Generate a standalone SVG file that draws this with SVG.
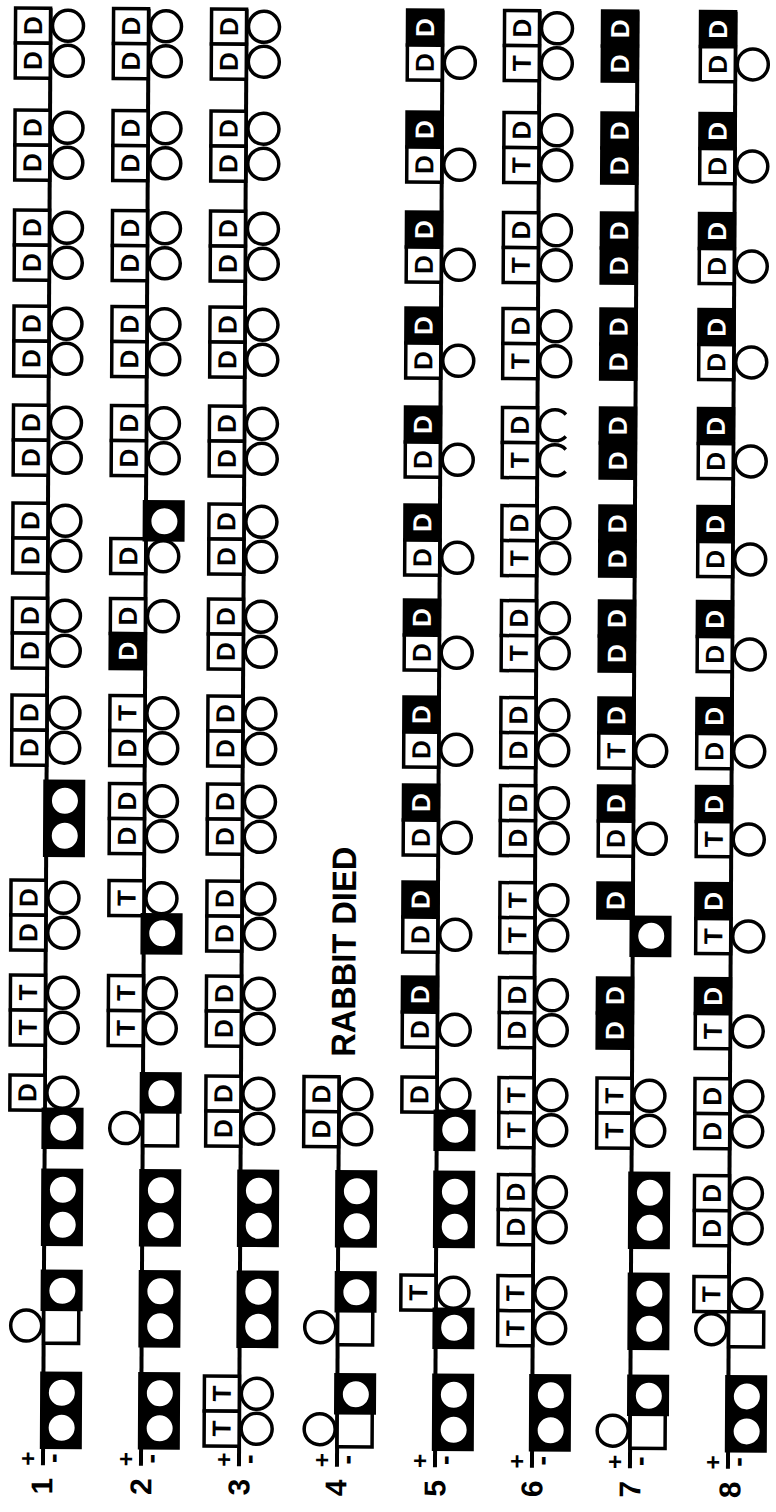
<svg xmlns="http://www.w3.org/2000/svg" xmlns:xlink="http://www.w3.org/1999/xlink" width="776" height="1512" viewBox="0 0 776 1512">
<style>
.c{stroke:#000;stroke-width:4;fill:none}
.b{fill:#fff;stroke:#000;stroke-width:3.5}
.k{fill:#000;stroke:#000;stroke-width:3.5}
.o{fill:#fff;stroke:#000;stroke-width:3.5}
.f{fill:#fff;stroke:#000;stroke-width:3}
.t{font-family:"Liberation Sans",Arial,sans-serif;font-weight:bold;font-size:26px;text-anchor:middle;dominant-baseline:central;fill:#000}
.w{fill:#fff}
.lab{font-family:"Liberation Sans",Arial,sans-serif;font-weight:bold;text-anchor:middle;dominant-baseline:central;fill:#000}
</style>
<defs>
<g id="sA"><rect class="b" x="-35" y="0" width="35" height="35"/><circle class="o" cx="17.5" cy="17.5" r="15.5"/></g>
<g id="sB"><rect class="b" x="-35" y="35" width="35" height="35"/><circle class="o" cx="17.5" cy="52.5" r="15.5"/></g>
<rect id="kA" class="k" x="-35" y="0" width="35" height="35"/>
<rect id="kB" class="k" x="-35" y="35" width="35" height="35"/>
<g id="fA"><rect class="k" x="-1.5" y="-2" width="38.5" height="38"/><circle class="f" cx="18.5" cy="17.5" r="14.5"/></g>
<g id="fB"><rect class="k" x="-1.5" y="34" width="38.5" height="38"/><circle class="f" cx="18.5" cy="52.5" r="14.5"/></g>
<g id="f2"><rect class="k" x="-1.5" y="-2" width="38.5" height="74"/><circle class="f" cx="18.5" cy="17.5" r="14.5"/><circle class="f" cx="18.5" cy="52.5" r="14.5"/></g>
<g id="cB"><rect class="b" x="0" y="35" width="35" height="35"/><circle class="o" cx="-17.5" cy="52.5" r="15.5"/></g>
</defs>
<rect width="776" height="1512" fill="#fff"/>
<g transform="rotate(0.3 388 1460)">
<g id="connectors">
<line class="c" x1="43" y1="10" x2="43" y2="1467"/>
<line class="c" x1="141" y1="10" x2="141" y2="1467"/>
<line class="c" x1="239" y1="10" x2="239" y2="1467"/>
<line class="c" x1="337" y1="1077" x2="337" y2="1467"/>
<line class="c" x1="435" y1="10" x2="435" y2="1467"/>
<line class="c" x1="532" y1="10" x2="532" y2="1467"/>
<line class="c" x1="630" y1="10" x2="630" y2="1467"/>
<line class="c" x1="728" y1="10" x2="728" y2="1467"/>
</g>

<!-- Row 1 -->
<g id="r1u0" transform="translate(43 10)"><use href="#sA"/><use href="#sB"/><text class="t" transform="translate(-17.5 17.5) rotate(-90)">D</text><text class="t" transform="translate(-17.5 52.5) rotate(-90)">D</text></g>
<g id="r1u1" transform="translate(43 112)"><use href="#sA"/><use href="#sB"/><text class="t" transform="translate(-17.5 17.5) rotate(-90)">D</text><text class="t" transform="translate(-17.5 52.5) rotate(-90)">D</text></g>
<g id="r1u2" transform="translate(43 212)"><use href="#sA"/><use href="#sB"/><text class="t" transform="translate(-17.5 17.5) rotate(-90)">D</text><text class="t" transform="translate(-17.5 52.5) rotate(-90)">D</text></g>
<g id="r1u3" transform="translate(43 308)"><use href="#sA"/><use href="#sB"/><text class="t" transform="translate(-17.5 17.5) rotate(-90)">D</text><text class="t" transform="translate(-17.5 52.5) rotate(-90)">D</text></g>
<g id="r1u4" transform="translate(43 407)"><use href="#sA"/><use href="#sB"/><text class="t" transform="translate(-17.5 17.5) rotate(-90)">D</text><text class="t" transform="translate(-17.5 52.5) rotate(-90)">D</text></g>
<g id="r1u5" transform="translate(43 505)"><use href="#sA"/><use href="#sB"/><text class="t" transform="translate(-17.5 17.5) rotate(-90)">D</text><text class="t" transform="translate(-17.5 52.5) rotate(-90)">D</text></g>
<g id="r1u6" transform="translate(43 600)"><use href="#sA"/><use href="#sB"/><text class="t" transform="translate(-17.5 17.5) rotate(-90)">D</text><text class="t" transform="translate(-17.5 52.5) rotate(-90)">D</text></g>
<g id="r1u7" transform="translate(43 697)"><use href="#sA"/><use href="#sB"/><text class="t" transform="translate(-17.5 17.5) rotate(-90)">D</text><text class="t" transform="translate(-17.5 52.5) rotate(-90)">D</text></g>
<g id="r1u8" transform="translate(43 785)"><use href="#f2"/></g>
<g id="r1u9" transform="translate(43 882)"><use href="#sA"/><use href="#sB"/><text class="t" transform="translate(-17.5 17.5) rotate(-90)">D</text><text class="t" transform="translate(-17.5 52.5) rotate(-90)">D</text></g>
<g id="r1u10" transform="translate(43 977)"><use href="#sA"/><use href="#sB"/><text class="t" transform="translate(-17.5 17.5) rotate(-90)">T</text><text class="t" transform="translate(-17.5 52.5) rotate(-90)">T</text></g>
<g id="r1u11" transform="translate(43 1077)"><use href="#sA"/><use href="#fB"/><text class="t" transform="translate(-17.5 17.5) rotate(-90)">D</text></g>
<g id="r1u12" transform="translate(43 1174)"><use href="#f2"/></g>
<g id="r1u13" transform="translate(43 1275)"><use href="#cB"/><use href="#fA"/></g>
<g id="r1u14" transform="translate(43 1377)"><use href="#f2"/></g>

<!-- Row 2 -->
<g id="r2u0" transform="translate(141 10)"><use href="#sA"/><use href="#sB"/><text class="t" transform="translate(-17.5 17.5) rotate(-90)">D</text><text class="t" transform="translate(-17.5 52.5) rotate(-90)">D</text></g>
<g id="r2u1" transform="translate(141 112)"><use href="#sA"/><use href="#sB"/><text class="t" transform="translate(-17.5 17.5) rotate(-90)">D</text><text class="t" transform="translate(-17.5 52.5) rotate(-90)">D</text></g>
<g id="r2u2" transform="translate(141 212)"><use href="#sA"/><use href="#sB"/><text class="t" transform="translate(-17.5 17.5) rotate(-90)">D</text><text class="t" transform="translate(-17.5 52.5) rotate(-90)">D</text></g>
<g id="r2u3" transform="translate(141 308)"><use href="#sA"/><use href="#sB"/><text class="t" transform="translate(-17.5 17.5) rotate(-90)">D</text><text class="t" transform="translate(-17.5 52.5) rotate(-90)">D</text></g>
<g id="r2u4" transform="translate(141 407)"><use href="#sA"/><use href="#sB"/><text class="t" transform="translate(-17.5 17.5) rotate(-90)">D</text><text class="t" transform="translate(-17.5 52.5) rotate(-90)">D</text></g>
<g id="r2u5" transform="translate(141 505)"><use href="#sB"/><use href="#fA"/><text class="t" transform="translate(-17.5 52.5) rotate(-90)">D</text></g>
<g id="r2u6" transform="translate(141 600)"><use href="#sA"/><use href="#kB"/><text class="t" transform="translate(-17.5 17.5) rotate(-90)">D</text><text class="t w" transform="translate(-17.5 52.5) rotate(-90)">D</text></g>
<g id="r2u7" transform="translate(141 697)"><use href="#sA"/><use href="#sB"/><text class="t" transform="translate(-17.5 17.5) rotate(-90)">T</text><text class="t" transform="translate(-17.5 52.5) rotate(-90)">D</text></g>
<g id="r2u8" transform="translate(141 785)"><use href="#sA"/><use href="#sB"/><text class="t" transform="translate(-17.5 17.5) rotate(-90)">D</text><text class="t" transform="translate(-17.5 52.5) rotate(-90)">D</text></g>
<g id="r2u9" transform="translate(141 882)"><use href="#sA"/><use href="#fB"/><text class="t" transform="translate(-17.5 17.5) rotate(-90)">T</text></g>
<g id="r2u10" transform="translate(141 977)"><use href="#sA"/><use href="#sB"/><text class="t" transform="translate(-17.5 17.5) rotate(-90)">T</text><text class="t" transform="translate(-17.5 52.5) rotate(-90)">T</text></g>
<g id="r2u11" transform="translate(141 1077)"><use href="#cB"/><use href="#fA"/></g>
<g id="r2u12" transform="translate(141 1174)"><use href="#f2"/></g>
<g id="r2u13" transform="translate(141 1275)"><use href="#f2"/></g>
<g id="r2u14" transform="translate(141 1377)"><use href="#f2"/></g>

<!-- Row 3 -->
<g id="r3u0" transform="translate(239 10)"><use href="#sA"/><use href="#sB"/><text class="t" transform="translate(-17.5 17.5) rotate(-90)">D</text><text class="t" transform="translate(-17.5 52.5) rotate(-90)">D</text></g>
<g id="r3u1" transform="translate(239 112)"><use href="#sA"/><use href="#sB"/><text class="t" transform="translate(-17.5 17.5) rotate(-90)">D</text><text class="t" transform="translate(-17.5 52.5) rotate(-90)">D</text></g>
<g id="r3u2" transform="translate(239 212)"><use href="#sA"/><use href="#sB"/><text class="t" transform="translate(-17.5 17.5) rotate(-90)">D</text><text class="t" transform="translate(-17.5 52.5) rotate(-90)">D</text></g>
<g id="r3u3" transform="translate(239 308)"><use href="#sA"/><use href="#sB"/><text class="t" transform="translate(-17.5 17.5) rotate(-90)">D</text><text class="t" transform="translate(-17.5 52.5) rotate(-90)">D</text></g>
<g id="r3u4" transform="translate(239 407)"><use href="#sA"/><use href="#sB"/><text class="t" transform="translate(-17.5 17.5) rotate(-90)">D</text><text class="t" transform="translate(-17.5 52.5) rotate(-90)">D</text></g>
<g id="r3u5" transform="translate(239 505)"><use href="#sA"/><use href="#sB"/><text class="t" transform="translate(-17.5 17.5) rotate(-90)">D</text><text class="t" transform="translate(-17.5 52.5) rotate(-90)">D</text></g>
<g id="r3u6" transform="translate(239 600)"><use href="#sA"/><use href="#sB"/><text class="t" transform="translate(-17.5 17.5) rotate(-90)">D</text><text class="t" transform="translate(-17.5 52.5) rotate(-90)">D</text></g>
<g id="r3u7" transform="translate(239 697)"><use href="#sA"/><use href="#sB"/><text class="t" transform="translate(-17.5 17.5) rotate(-90)">D</text><text class="t" transform="translate(-17.5 52.5) rotate(-90)">D</text></g>
<g id="r3u8" transform="translate(239 785)"><use href="#sA"/><use href="#sB"/><text class="t" transform="translate(-17.5 17.5) rotate(-90)">D</text><text class="t" transform="translate(-17.5 52.5) rotate(-90)">D</text></g>
<g id="r3u9" transform="translate(239 882)"><use href="#sA"/><use href="#sB"/><text class="t" transform="translate(-17.5 17.5) rotate(-90)">D</text><text class="t" transform="translate(-17.5 52.5) rotate(-90)">D</text></g>
<g id="r3u10" transform="translate(239 977)"><use href="#sA"/><use href="#sB"/><text class="t" transform="translate(-17.5 17.5) rotate(-90)">D</text><text class="t" transform="translate(-17.5 52.5) rotate(-90)">D</text></g>
<g id="r3u11" transform="translate(239 1077)"><use href="#sA"/><use href="#sB"/><text class="t" transform="translate(-17.5 17.5) rotate(-90)">D</text><text class="t" transform="translate(-17.5 52.5) rotate(-90)">D</text></g>
<g id="r3u12" transform="translate(239 1174)"><use href="#f2"/></g>
<g id="r3u13" transform="translate(239 1275)"><use href="#f2"/></g>
<g id="r3u14" transform="translate(239 1377)"><use href="#sA"/><use href="#sB"/><text class="t" transform="translate(-17.5 17.5) rotate(-90)">T</text><text class="t" transform="translate(-17.5 52.5) rotate(-90)">T</text></g>

<!-- Row 4 -->
<g id="r4note"><text class="lab" font-size="34" textLength="210" lengthAdjust="spacingAndGlyphs" transform="translate(341 952) rotate(-90)">RABBIT DIED</text></g>
<g id="r4u11" transform="translate(337 1077)"><use href="#sA"/><use href="#sB"/><text class="t" transform="translate(-17.5 17.5) rotate(-90)">D</text><text class="t" transform="translate(-17.5 52.5) rotate(-90)">D</text></g>
<g id="r4u12" transform="translate(337 1174)"><use href="#f2"/></g>
<g id="r4u13" transform="translate(337 1275)"><use href="#cB"/><use href="#fA"/></g>
<g id="r4u14" transform="translate(337 1377)"><use href="#cB"/><use href="#fA"/></g>

<!-- Row 5 -->
<g id="r5u0" transform="translate(435 10)"><use href="#kA"/><use href="#sB"/><text class="t w" transform="translate(-17.5 17.5) rotate(-90)">D</text><text class="t" transform="translate(-17.5 52.5) rotate(-90)">D</text></g>
<g id="r5u1" transform="translate(435 112)"><use href="#kA"/><use href="#sB"/><text class="t w" transform="translate(-17.5 17.5) rotate(-90)">D</text><text class="t" transform="translate(-17.5 52.5) rotate(-90)">D</text></g>
<g id="r5u2" transform="translate(435 212)"><use href="#kA"/><use href="#sB"/><text class="t w" transform="translate(-17.5 17.5) rotate(-90)">D</text><text class="t" transform="translate(-17.5 52.5) rotate(-90)">D</text></g>
<g id="r5u3" transform="translate(435 308)"><use href="#kA"/><use href="#sB"/><text class="t w" transform="translate(-17.5 17.5) rotate(-90)">D</text><text class="t" transform="translate(-17.5 52.5) rotate(-90)">D</text></g>
<g id="r5u4" transform="translate(435 407)"><use href="#kA"/><use href="#sB"/><text class="t w" transform="translate(-17.5 17.5) rotate(-90)">D</text><text class="t" transform="translate(-17.5 52.5) rotate(-90)">D</text></g>
<g id="r5u5" transform="translate(435 505)"><use href="#kA"/><use href="#sB"/><text class="t w" transform="translate(-17.5 17.5) rotate(-90)">D</text><text class="t" transform="translate(-17.5 52.5) rotate(-90)">D</text></g>
<g id="r5u6" transform="translate(435 600)"><use href="#kA"/><use href="#sB"/><text class="t w" transform="translate(-17.5 17.5) rotate(-90)">D</text><text class="t" transform="translate(-17.5 52.5) rotate(-90)">D</text></g>
<g id="r5u7" transform="translate(435 697)"><use href="#kA"/><use href="#sB"/><text class="t w" transform="translate(-17.5 17.5) rotate(-90)">D</text><text class="t" transform="translate(-17.5 52.5) rotate(-90)">D</text></g>
<g id="r5u8" transform="translate(435 785)"><use href="#kA"/><use href="#sB"/><text class="t w" transform="translate(-17.5 17.5) rotate(-90)">D</text><text class="t" transform="translate(-17.5 52.5) rotate(-90)">D</text></g>
<g id="r5u9" transform="translate(435 882)"><use href="#kA"/><use href="#sB"/><text class="t w" transform="translate(-17.5 17.5) rotate(-90)">D</text><text class="t" transform="translate(-17.5 52.5) rotate(-90)">D</text></g>
<g id="r5u10" transform="translate(435 977)"><use href="#kA"/><use href="#sB"/><text class="t w" transform="translate(-17.5 17.5) rotate(-90)">D</text><text class="t" transform="translate(-17.5 52.5) rotate(-90)">D</text></g>
<g id="r5u11" transform="translate(435 1077)"><use href="#sA"/><use href="#fB"/><text class="t" transform="translate(-17.5 17.5) rotate(-90)">D</text></g>
<g id="r5u12" transform="translate(435 1174)"><use href="#f2"/></g>
<g id="r5u13" transform="translate(435 1275)"><use href="#sA"/><use href="#fB"/><text class="t" transform="translate(-17.5 17.5) rotate(-90)">T</text></g>
<g id="r5u14" transform="translate(435 1377)"><use href="#f2"/></g>

<!-- Row 6 -->
<g id="r6u0" transform="translate(532 10)"><use href="#sA"/><use href="#sB"/><text class="t" transform="translate(-17.5 17.5) rotate(-90)">D</text><text class="t" transform="translate(-17.5 52.5) rotate(-90)">T</text></g>
<g id="r6u1" transform="translate(532 112)"><use href="#sA"/><use href="#sB"/><text class="t" transform="translate(-17.5 17.5) rotate(-90)">D</text><text class="t" transform="translate(-17.5 52.5) rotate(-90)">T</text></g>
<g id="r6u2" transform="translate(532 212)"><use href="#sA"/><use href="#sB"/><text class="t" transform="translate(-17.5 17.5) rotate(-90)">D</text><text class="t" transform="translate(-17.5 52.5) rotate(-90)">T</text></g>
<g id="r6u3" transform="translate(532 308)"><use href="#sA"/><use href="#sB"/><text class="t" transform="translate(-17.5 17.5) rotate(-90)">D</text><text class="t" transform="translate(-17.5 52.5) rotate(-90)">T</text></g>
<g id="r6u4" transform="translate(532 407)"><rect class="b" x="-35" y="0" width="35" height="35"/><rect class="b" x="-35" y="35" width="35" height="35"/><path class="o" d="M28.5 6.5 A15.5 15.5 0 1 0 28.5 28.5"/><path class="o" d="M28.5 41.5 A15.5 15.5 0 1 0 28.5 63.5"/><text class="t" transform="translate(-17.5 17.5) rotate(-90)">D</text><text class="t" transform="translate(-17.5 52.5) rotate(-90)">T</text></g>
<g id="r6u5" transform="translate(532 505)"><use href="#sA"/><use href="#sB"/><text class="t" transform="translate(-17.5 17.5) rotate(-90)">D</text><text class="t" transform="translate(-17.5 52.5) rotate(-90)">T</text></g>
<g id="r6u6" transform="translate(532 600)"><use href="#sA"/><use href="#sB"/><text class="t" transform="translate(-17.5 17.5) rotate(-90)">D</text><text class="t" transform="translate(-17.5 52.5) rotate(-90)">T</text></g>
<g id="r6u7" transform="translate(532 697)"><use href="#sA"/><use href="#sB"/><text class="t" transform="translate(-17.5 17.5) rotate(-90)">D</text><text class="t" transform="translate(-17.5 52.5) rotate(-90)">D</text></g>
<g id="r6u8" transform="translate(532 785)"><use href="#sA"/><use href="#sB"/><text class="t" transform="translate(-17.5 17.5) rotate(-90)">D</text><text class="t" transform="translate(-17.5 52.5) rotate(-90)">D</text></g>
<g id="r6u9" transform="translate(532 882)"><use href="#sA"/><use href="#sB"/><text class="t" transform="translate(-17.5 17.5) rotate(-90)">T</text><text class="t" transform="translate(-17.5 52.5) rotate(-90)">T</text></g>
<g id="r6u10" transform="translate(532 977)"><use href="#sA"/><use href="#sB"/><text class="t" transform="translate(-17.5 17.5) rotate(-90)">D</text><text class="t" transform="translate(-17.5 52.5) rotate(-90)">D</text></g>
<g id="r6u11" transform="translate(532 1077)"><use href="#sA"/><use href="#sB"/><text class="t" transform="translate(-17.5 17.5) rotate(-90)">T</text><text class="t" transform="translate(-17.5 52.5) rotate(-90)">T</text></g>
<g id="r6u12" transform="translate(532 1174)"><use href="#sA"/><use href="#sB"/><text class="t" transform="translate(-17.5 17.5) rotate(-90)">D</text><text class="t" transform="translate(-17.5 52.5) rotate(-90)">D</text></g>
<g id="r6u13" transform="translate(532 1275)"><use href="#sA"/><use href="#sB"/><text class="t" transform="translate(-17.5 17.5) rotate(-90)">T</text><text class="t" transform="translate(-17.5 52.5) rotate(-90)">T</text></g>
<g id="r6u14" transform="translate(532 1377)"><use href="#f2"/></g>

<!-- Row 7 -->
<g id="r7u0" transform="translate(630 10)"><use href="#kA"/><use href="#kB"/><text class="t w" transform="translate(-17.5 17.5) rotate(-90)">D</text><text class="t w" transform="translate(-17.5 52.5) rotate(-90)">D</text></g>
<g id="r7u1" transform="translate(630 112)"><use href="#kA"/><use href="#kB"/><text class="t w" transform="translate(-17.5 17.5) rotate(-90)">D</text><text class="t w" transform="translate(-17.5 52.5) rotate(-90)">D</text></g>
<g id="r7u2" transform="translate(630 212)"><use href="#kA"/><use href="#kB"/><text class="t w" transform="translate(-17.5 17.5) rotate(-90)">D</text><text class="t w" transform="translate(-17.5 52.5) rotate(-90)">D</text></g>
<g id="r7u3" transform="translate(630 308)"><use href="#kA"/><use href="#kB"/><text class="t w" transform="translate(-17.5 17.5) rotate(-90)">D</text><text class="t w" transform="translate(-17.5 52.5) rotate(-90)">D</text></g>
<g id="r7u4" transform="translate(630 407)"><use href="#kA"/><use href="#kB"/><text class="t w" transform="translate(-17.5 17.5) rotate(-90)">D</text><text class="t w" transform="translate(-17.5 52.5) rotate(-90)">D</text></g>
<g id="r7u5" transform="translate(630 505)"><use href="#kA"/><use href="#kB"/><text class="t w" transform="translate(-17.5 17.5) rotate(-90)">D</text><text class="t w" transform="translate(-17.5 52.5) rotate(-90)">D</text></g>
<g id="r7u6" transform="translate(630 600)"><use href="#kA"/><use href="#kB"/><text class="t w" transform="translate(-17.5 17.5) rotate(-90)">D</text><text class="t w" transform="translate(-17.5 52.5) rotate(-90)">D</text></g>
<g id="r7u7" transform="translate(630 697)"><use href="#kA"/><use href="#sB"/><text class="t w" transform="translate(-17.5 17.5) rotate(-90)">D</text><text class="t" transform="translate(-17.5 52.5) rotate(-90)">T</text></g>
<g id="r7u8" transform="translate(630 785)"><use href="#kA"/><use href="#sB"/><text class="t w" transform="translate(-17.5 17.5) rotate(-90)">D</text><text class="t" transform="translate(-17.5 52.5) rotate(-90)">D</text></g>
<g id="r7u9" transform="translate(630 882)"><use href="#kA"/><use href="#fB"/><text class="t w" transform="translate(-17.5 17.5) rotate(-90)">D</text></g>
<g id="r7u10" transform="translate(630 977)"><use href="#kA"/><use href="#kB"/><text class="t w" transform="translate(-17.5 17.5) rotate(-90)">D</text><text class="t w" transform="translate(-17.5 52.5) rotate(-90)">D</text></g>
<g id="r7u11" transform="translate(630 1077)"><use href="#sA"/><use href="#sB"/><text class="t" transform="translate(-17.5 17.5) rotate(-90)">T</text><text class="t" transform="translate(-17.5 52.5) rotate(-90)">T</text></g>
<g id="r7u12" transform="translate(630 1174)"><use href="#f2"/></g>
<g id="r7u13" transform="translate(630 1275)"><use href="#f2"/></g>
<g id="r7u14" transform="translate(630 1377)"><use href="#cB"/><use href="#fA"/></g>

<!-- Row 8 -->
<g id="r8u0" transform="translate(728 10)"><use href="#kA"/><use href="#sB"/><text class="t w" transform="translate(-17.5 17.5) rotate(-90)">D</text><text class="t" transform="translate(-17.5 52.5) rotate(-90)">D</text></g>
<g id="r8u1" transform="translate(728 112)"><use href="#kA"/><use href="#sB"/><text class="t w" transform="translate(-17.5 17.5) rotate(-90)">D</text><text class="t" transform="translate(-17.5 52.5) rotate(-90)">D</text></g>
<g id="r8u2" transform="translate(728 212)"><use href="#kA"/><use href="#sB"/><text class="t w" transform="translate(-17.5 17.5) rotate(-90)">D</text><text class="t" transform="translate(-17.5 52.5) rotate(-90)">D</text></g>
<g id="r8u3" transform="translate(728 308)"><use href="#kA"/><use href="#sB"/><text class="t w" transform="translate(-17.5 17.5) rotate(-90)">D</text><text class="t" transform="translate(-17.5 52.5) rotate(-90)">D</text></g>
<g id="r8u4" transform="translate(728 407)"><use href="#kA"/><use href="#sB"/><text class="t w" transform="translate(-17.5 17.5) rotate(-90)">D</text><text class="t" transform="translate(-17.5 52.5) rotate(-90)">D</text></g>
<g id="r8u5" transform="translate(728 505)"><use href="#kA"/><use href="#sB"/><text class="t w" transform="translate(-17.5 17.5) rotate(-90)">D</text><text class="t" transform="translate(-17.5 52.5) rotate(-90)">D</text></g>
<g id="r8u6" transform="translate(728 600)"><use href="#kA"/><use href="#sB"/><text class="t w" transform="translate(-17.5 17.5) rotate(-90)">D</text><text class="t" transform="translate(-17.5 52.5) rotate(-90)">D</text></g>
<g id="r8u7" transform="translate(728 697)"><use href="#kA"/><use href="#sB"/><text class="t w" transform="translate(-17.5 17.5) rotate(-90)">D</text><text class="t" transform="translate(-17.5 52.5) rotate(-90)">D</text></g>
<g id="r8u8" transform="translate(728 785)"><use href="#kA"/><use href="#sB"/><text class="t w" transform="translate(-17.5 17.5) rotate(-90)">D</text><text class="t" transform="translate(-17.5 52.5) rotate(-90)">T</text></g>
<g id="r8u9" transform="translate(728 882)"><use href="#kA"/><use href="#sB"/><text class="t w" transform="translate(-17.5 17.5) rotate(-90)">D</text><text class="t" transform="translate(-17.5 52.5) rotate(-90)">T</text></g>
<g id="r8u10" transform="translate(728 977)"><use href="#kA"/><use href="#sB"/><text class="t w" transform="translate(-17.5 17.5) rotate(-90)">D</text><text class="t" transform="translate(-17.5 52.5) rotate(-90)">T</text></g>
<g id="r8u11" transform="translate(728 1077)"><use href="#sA"/><use href="#sB"/><text class="t" transform="translate(-17.5 17.5) rotate(-90)">D</text><text class="t" transform="translate(-17.5 52.5) rotate(-90)">D</text></g>
<g id="r8u12" transform="translate(728 1174)"><use href="#sA"/><use href="#sB"/><text class="t" transform="translate(-17.5 17.5) rotate(-90)">D</text><text class="t" transform="translate(-17.5 52.5) rotate(-90)">D</text></g>
<g id="r8u13" transform="translate(728 1275)"><use href="#sA"/><use href="#cB"/><text class="t" transform="translate(-17.5 17.5) rotate(-90)">T</text></g>
<g id="r8u14" transform="translate(728 1377)"><use href="#f2"/></g>

<!-- Labels -->
<g id="labels">
<text class="lab" font-size="24" x="28" y="1460">+</text><text class="lab" font-size="30" transform="translate(52 1460) rotate(-90)">-</text><text class="lab" font-size="30" transform="translate(42 1488) rotate(-90)">1</text>
<text class="lab" font-size="24" x="126" y="1460">+</text><text class="lab" font-size="30" transform="translate(150 1460) rotate(-90)">-</text><text class="lab" font-size="30" transform="translate(141 1488) rotate(-90)">2</text>
<text class="lab" font-size="24" x="224" y="1460">+</text><text class="lab" font-size="30" transform="translate(248 1460) rotate(-90)">-</text><text class="lab" font-size="30" transform="translate(239 1488) rotate(-90)">3</text>
<text class="lab" font-size="24" x="322" y="1460">+</text><text class="lab" font-size="30" transform="translate(346 1460) rotate(-90)">-</text><text class="lab" font-size="30" transform="translate(336 1488) rotate(-90)">4</text>
<text class="lab" font-size="24" x="420" y="1460">+</text><text class="lab" font-size="30" transform="translate(444 1460) rotate(-90)">-</text><text class="lab" font-size="30" transform="translate(435 1488) rotate(-90)">5</text>
<text class="lab" font-size="24" x="517" y="1460">+</text><text class="lab" font-size="30" transform="translate(541 1460) rotate(-90)">-</text><text class="lab" font-size="30" transform="translate(532 1488) rotate(-90)">6</text>
<text class="lab" font-size="24" x="615" y="1460">+</text><text class="lab" font-size="30" transform="translate(639 1460) rotate(-90)">-</text><text class="lab" font-size="30" transform="translate(630 1488) rotate(-90)">7</text>
<text class="lab" font-size="24" x="713" y="1460">+</text><text class="lab" font-size="30" transform="translate(737 1460) rotate(-90)">-</text><text class="lab" font-size="30" transform="translate(730 1488) rotate(-90)">8</text>
</g>
</g>
</svg>
